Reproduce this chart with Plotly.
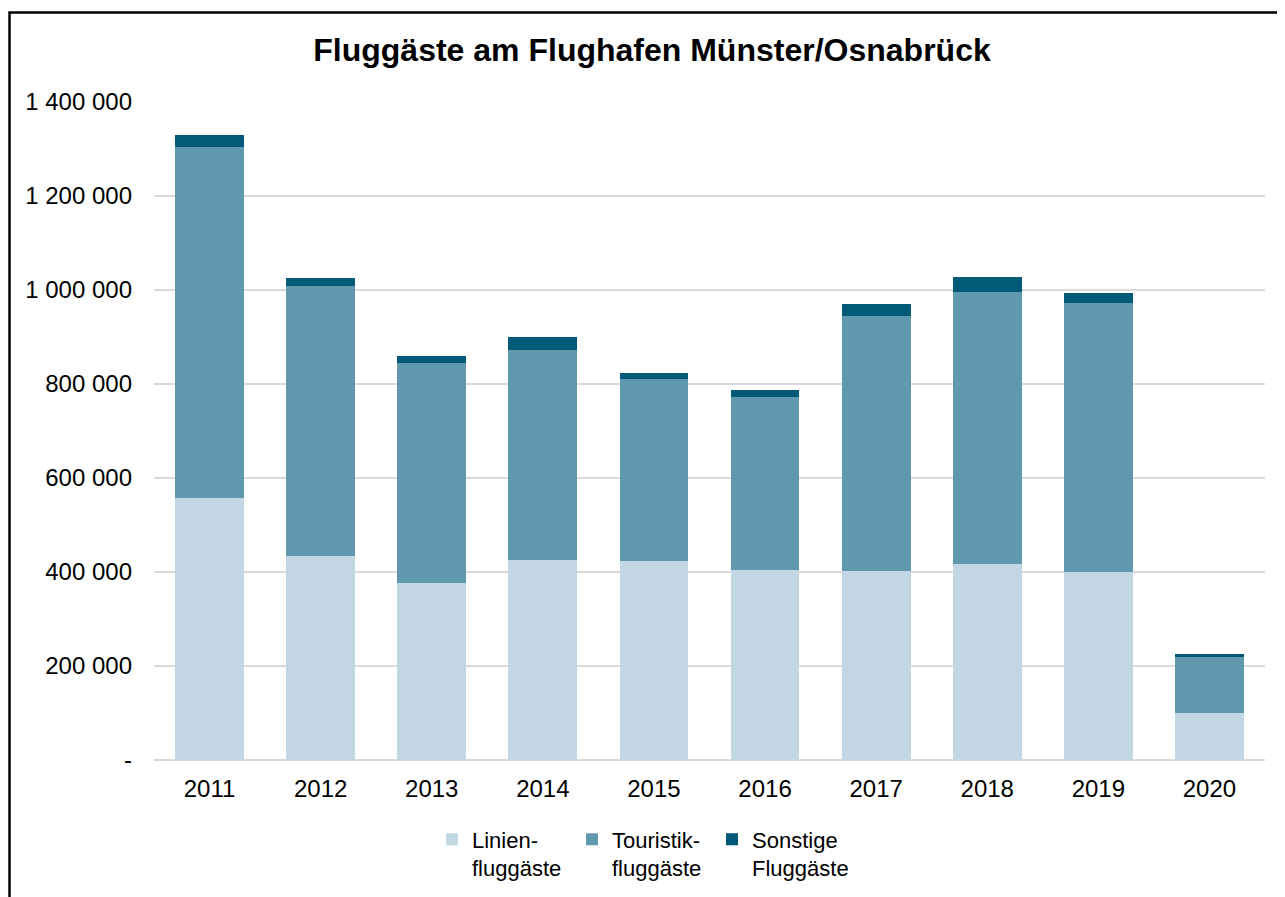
import plotly.graph_objects as go

years = ["2011", "2012", "2013", "2014", "2015", "2016", "2017", "2018", "2019", "2020"]
linien = [557000, 433000, 377000, 425000, 423000, 404000, 402000, 418000, 401000, 101000]
touristik = [747000, 576000, 468000, 447000, 388000, 368000, 543000, 578000, 572000, 119000]
sonstige = [26000, 16500, 15000, 29000, 12500, 15000, 25500, 32000, 20000, 5000]

series_names = ["Linien-<br>fluggäste", "Touristik-<br>fluggäste", "Sonstige<br>Fluggäste"]
series_colors = ["#c3d6e3", "#6098ae", "#005a78"]

y_tickvals = [0, 200000, 400000, 600000, 800000, 1000000, 1200000, 1400000]
y_ticktext = ["-", "200 000", "400 000", "600 000", "800 000", "1 000 000", "1 200 000", "1 400 000"]

title_text = "Fluggäste am Flughafen Münster/Osnabrück"

FONT = "Liberation Sans, Arial, sans-serif"
OFF = 8  # page body margin of the html document
W, H = 1285 - OFF, 897 - OFF
ML, MR, MT, MB = 154 - OFF, 20, 102 - OFF, 137

fig = go.Figure()
for name, vals, col in zip(series_names, [linien, touristik, sonstige], series_colors):
    fig.add_trace(go.Bar(x=years, y=vals, name=name, marker=dict(color=col, line=dict(width=0))))

plot_w = W - ML - MR
plot_h = H - MT - MB

fig.update_layout(
    width=W, height=H,
    margin=dict(l=ML, r=MR, t=MT, b=MB, pad=0),
    barmode="stack",
    bargap=0.38,
    paper_bgcolor="white",
    plot_bgcolor="white",
    font=dict(family=FONT, size=24, color="black"),
    title=dict(text="<b>" + title_text + "</b>", x=(652 - OFF) / W, xanchor="center", xref="container",
               y=1 - (50 - OFF) / H, yanchor="middle", yref="container",
               font=dict(family=FONT, size=32, color="black")),
    xaxis=dict(showgrid=False, showline=False, ticks="", ticklabelstandoff=12,
               tickfont=dict(size=24)),
    yaxis=dict(range=[0, 1400000], tickvals=y_tickvals, ticktext=y_ticktext,
               showgrid=True, gridcolor="#d9d9d9", gridwidth=1.5,
               zeroline=True, zerolinecolor="#d9d9d9", zerolinewidth=1.5,
               showline=False, ticks="", ticklabelstandoff=21, tickfont=dict(size=24)),
    legend=dict(orientation="h", xref="container", yref="container",
                x=(446 - OFF - 14) / W, xanchor="left",
                y=(H - 881.5) / H, yanchor="bottom",
                valign="top", traceorder="normal",
                font=dict(family=FONT, size=22, color="black"),
                itemwidth=30, entrywidth=95, entrywidthmode="pixels"),
    showlegend=True,
)

# outer black border of the chart frame
fig.add_shape(type="rect", xref="paper", yref="paper",
              x0=(9.5 - OFF - ML) / plot_w, x1=(W + 20 - ML) / plot_w,
              y0=-(MB + 20) / plot_h, y1=((H - MB) - (12.5 - OFF)) / plot_h,
              line=dict(color="black", width=2.5), fillcolor="rgba(0,0,0,0)", layer="above")

fig.write_html("out.html")
